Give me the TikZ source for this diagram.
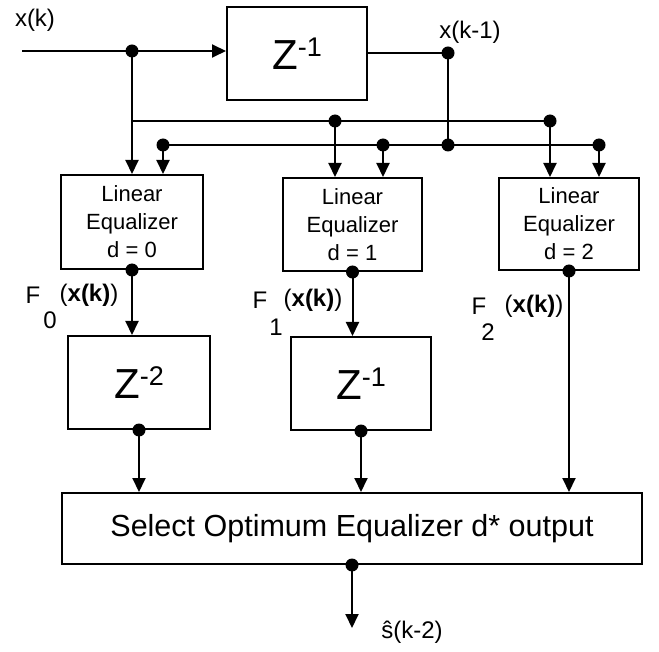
\documentclass[tikz,border=0pt]{standalone}
\usepackage{fontspec}
\setmainfont{Liberation Sans}
\usetikzlibrary{arrows.meta}
\newcommand{\zpow}[1]{\fontsize{42}{42}\selectfont Z\raisebox{13pt}{\fontsize{27}{27}\selectfont -#1}}
\begin{document}
\begin{tikzpicture}[x=1pt,y=-1pt,
  wire/.style={line width=2pt},
  arr/.style={wire,-{Triangle[length=14pt,width=13pt]}},
  blk/.style={draw,line width=2pt,inner sep=0pt},
  jdot/.style={circle,fill,inner sep=0pt,minimum size=13pt},
  lbl/.style={inner sep=0pt,font=\fontsize{24}{24}\selectfont},
  eqtxt/.style={align=center,font=\fontsize{22}{28}\selectfont}]
\useasboundingbox (0,0) rectangle (659,652);

% blocks
\node[blk,minimum width=140pt,minimum height=93pt] (zb) at (297,53.5) {\zpow{1}};
\node[blk,eqtxt,minimum width=142pt,minimum height=94pt] (eq0) at (132,222) {Linear\\Equalizer\\d = 0};
\node[blk,eqtxt,minimum width=139pt,minimum height=93pt] (eq1) at (352.5,224.5) {Linear\\Equalizer\\d = 1};
\node[blk,eqtxt,minimum width=140pt,minimum height=92pt] (eq2) at (569,224) {Linear\\Equalizer\\d = 2};
\node[blk,minimum width=142pt,minimum height=93pt] (z2) at (139,382.5) {\zpow{2}};
\node[blk,minimum width=140pt,minimum height=93pt] (z1b) at (361,383.5) {\zpow{1}};
\node[blk,minimum width=580pt,minimum height=71pt,font=\fontsize{30.5}{30.5}\selectfont] (sel) at (352,528.5) {Select Optimum Equalizer d* output};

% input and delay
\coordinate (in) at (22,51);
\node[jdot] (d1) at (132,51) {};
\draw[wire] (in) -- (d1.center);
\draw[arr] (d1.center) -- (d1.center -| zb.west);
\node[jdot] (d2) at (448,53) {};
\draw[wire] (zb.east |- d2.center) -- (d2.center);
\node[jdot] (d3) at (448,145) {};
\draw[wire] (d2.center) -- (d3.center);

% bus lines
\coordinate (b1s) at (132,121);
\node[jdot] (b1a) at (335,121) {};
\node[jdot] (b1b) at (550,121) {};
\draw[wire] (b1s) -- (b1b.center);
\node[jdot] (b2a) at (163,145) {};
\node[jdot] (b2b) at (383,145) {};
\node[jdot] (b2c) at (599,145) {};
\draw[wire] (b2a.center) -- (b2c.center);

% feeds into equalizers
\draw[arr] (d1.center) -- (d1.center |- eq0.north);
\draw[arr] (b2a.center) -- (b2a.center |- eq0.north);
\draw[arr] (b1a.center) -- (b1a.center |- eq1.north);
\draw[arr] (b2b.center) -- (b2b.center |- eq1.north);
\draw[arr] (b1b.center) -- (b1b.center |- eq2.north);
\draw[arr] (b2c.center) -- (b2c.center |- eq2.north);

% equalizer outputs
\node[jdot] (o0) at (eq0.south) {};
\node[jdot] (o1) at (eq1.south) {};
\node[jdot] (o2) at (eq2.south) {};
\draw[arr] (o0.center) -- (o0.center |- z2.north);
\draw[arr] (o1.center) -- (o1.center |- z1b.north);
\draw[arr] (o2.center) -- (o2.center |- sel.north);

% delay outputs
\node[jdot] (p0) at (z2.south) {};
\node[jdot] (p1) at (z1b.south) {};
\draw[arr] (p0.center) -- (p0.center |- sel.north);
\draw[arr] (p1.center) -- (p1.center |- sel.north);

% final output
\node[jdot] (q) at (sel.south) {};
\coordinate (out) at (352,628);
\draw[arr] (q.center) -- (out);

% labels
\node[lbl] (lxk) at (35,20) {x(k)};
\node[lbl] (lxk1) at (470,32) {x(k-1)};
\node[lbl] (f0F) at (33,295) {F};
\node[lbl] (f0s) at (50,320) {0};
\node[lbl] (f0a) at (89,295) {(\textbf{x(k)})};
\node[lbl] (f1F) at (260,300) {F};
\node[lbl] (f1s) at (276,327) {1};
\node[lbl] (f1a) at (313,300) {(\textbf{x(k)})};
\node[lbl] (f2F) at (479,306) {F};
\node[lbl] (f2s) at (488,332) {2};
\node[lbl] (f2a) at (534,306) {(\textbf{x(k)})};
\node[lbl] (shat) at (412,632) {\^{s}(k-2)};
\end{tikzpicture}
\end{document}
